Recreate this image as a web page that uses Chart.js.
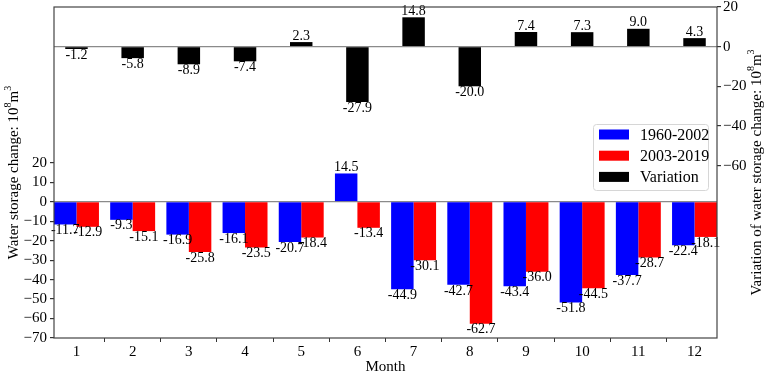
<!DOCTYPE html>
<html>
<head>
<meta charset="utf-8">
<script src="https://cdn.jsdelivr.net/npm/chart.js@4/dist/chart.umd.min.js"></script>
<style>
  html, body { margin: 0; padding: 0; background: #fff; }
  #wrap { width: 768px; height: 375px; }
</style>
</head>
<body>
<div id="wrap"><canvas id="chart" width="768" height="375"></canvas></div>
<script>
// ===== Data =====
const months = [1, 2, 3, 4, 5, 6, 7, 8, 9, 10, 11, 12];
const period1 = [-11.7, -9.3, -16.9, -16.1, -20.7, 14.5, -44.9, -42.7, -43.4, -51.8, -37.7, -22.4]; // 1960-2002
const period2 = [-12.9, -15.1, -25.8, -23.5, -18.4, -13.4, -30.1, -62.7, -36.0, -44.5, -28.7, -18.1]; // 2003-2019
const variation = [-1.2, -5.8, -8.9, -7.4, 2.3, -27.9, 14.8, -20.0, 7.4, 7.3, 9.0, 4.3];
const leftTicks = [20, 10, 0, -10, -20, -30, -40, -50, -60, -70];
const rightTicks = [20, 0, -20, -40, -60];

const FONT = "'Liberation Serif', 'Times New Roman', serif";
Chart.defaults.font.family = FONT;
Chart.defaults.color = '#000';

const minusFmt = v => (v < 0 ? '\u2212' + Math.abs(v) : String(v));
const zeroGrid = ctx => (ctx.tick && ctx.tick.value === 0 ? '#8a8a8a' : 'rgba(0,0,0,0)');

// ===== Value labels on bars =====
const valueLabels = {
  id: 'valueLabels',
  afterDatasetsDraw(chart) {
    const ctx = chart.ctx;
    ctx.save();
    ctx.font = '14px ' + FONT;
    ctx.fillStyle = '#000';
    ctx.textAlign = 'center';
    chart.data.datasets.forEach((ds, i) => {
      const meta = chart.getDatasetMeta(i);
      meta.data.forEach((bar, j) => {
        const v = ds.data[j];
        if (v < 0) {
          ctx.textBaseline = 'top';
          ctx.fillText(v.toFixed(1), bar.x, bar.y - 1);
        } else {
          ctx.textBaseline = 'bottom';
          ctx.fillText(v.toFixed(1), bar.x, bar.y + 1);
        }
      });
    });
    ctx.restore();
  }
};

// text with superscripts, parts = [[text, isSup], ...]
function drawRich(ctx, parts, cx, cy, rot) {
  const base = '15px ' + FONT, sup = '10px ' + FONT;
  let total = 0;
  parts.forEach(p => { ctx.font = p[1] ? sup : base; total += ctx.measureText(p[0]).width; });
  ctx.save();
  ctx.translate(cx, cy);
  ctx.rotate(rot);
  ctx.fillStyle = '#000';
  ctx.textBaseline = 'middle';
  ctx.textAlign = 'left';
  let x = -total / 2;
  parts.forEach(p => {
    ctx.font = p[1] ? sup : base;
    ctx.fillText(p[0], x, p[1] ? -6 : 0);
    x += ctx.measureText(p[0]).width;
  });
  ctx.restore();
}

// ===== Frame, titles and legend =====
const decorations = {
  id: 'decorations',
  afterDraw(chart) {
    const ctx = chart.ctx;
    const a = chart.chartArea;
    ctx.save();
    ctx.strokeStyle = '#444';
    ctx.lineWidth = 1.2;
    ctx.strokeRect(a.left, a.top, a.right - a.left, a.bottom - a.top);
    ctx.restore();

    const midY = (a.top + a.bottom) / 2;
    drawRich(ctx, [['Water storage change: 10', false], ['8', true], ['m', false], ['3', true]], 14, midY, -Math.PI / 2);
    drawRich(ctx, [['Variation of water storage change: 10', false], ['8', true], ['m', false], ['3', true]], 757, midY, -Math.PI / 2);
    drawRich(ctx, [['Month', false]], (a.left + a.right) / 2, 367, 0);

    // legend
    const lx = 593, ly = 124, lw = 115, lh = 66;
    ctx.save();
    ctx.fillStyle = 'rgba(255,255,255,0.85)';
    ctx.strokeStyle = '#d6d6d6';
    ctx.lineWidth = 1;
    ctx.beginPath();
    ctx.roundRect(lx + 0.5, ly + 0.5, lw, lh, 3);
    ctx.fill();
    ctx.stroke();
    ctx.font = '16px ' + FONT;
    ctx.textBaseline = 'middle';
    ctx.textAlign = 'left';
    chart.data.datasets.forEach((ds, i) => {
      const y = 134.5 + i * 21.2;
      ctx.fillStyle = ds.backgroundColor;
      ctx.fillRect(599, y - 5, 30, 10);
      ctx.fillStyle = '#000';
      ctx.fillText(ds.label, 640, y + 1);
    });
    ctx.restore();
  }
};

const noPad = s => { s.paddingTop = 0; s.paddingBottom = 0; s.paddingLeft = 0; s.paddingRight = 0; };

new Chart(document.getElementById('chart'), {
  type: 'bar',
  data: {
    labels: months,
    datasets: [
      { label: '1960-2002', data: period1, backgroundColor: '#0000ff', yAxisID: 'y',
        categoryPercentage: 0.8, barPercentage: 1.0 },
      { label: '2003-2019', data: period2, backgroundColor: '#ff0000', yAxisID: 'y',
        categoryPercentage: 0.8, barPercentage: 1.0 },
      { label: 'Variation', data: variation, backgroundColor: '#000000', yAxisID: 'y2',
        grouped: false, categoryPercentage: 0.8, barPercentage: 0.5 }
    ]
  },
  options: {
    responsive: false,
    animation: false,
    layout: { padding: { top: 7, left: 0, right: 0, bottom: 0 } },
    plugins: { legend: { display: false }, tooltip: { enabled: false } },
    scales: {
      x: {
        type: 'linear',
        min: 0.6,
        max: 12.4,
        offset: false,
        border: { display: false },
        grid: { drawOnChartArea: false, tickLength: 4, tickColor: '#333' },
        ticks: { font: { size: 15 }, padding: 1, maxRotation: 0 },
        afterBuildTicks: s => { s.ticks = months.map(v => ({ value: v })); },
        afterFit: s => { s.height = 37; noPad(s); }
      },
      y: {
        position: 'left',
        min: -70,
        max: 100,
        border: { display: false },
        grid: { color: zeroGrid, tickLength: 4, tickColor: '#333', lineWidth: 1.2 },
        ticks: { font: { size: 15 }, padding: 3, callback: minusFmt },
        afterBuildTicks: s => { s.ticks = leftTicks.map(v => ({ value: v })); },
        afterFit: s => { s.width = 54; noPad(s); }
      },
      y2: {
        position: 'right',
        min: -147,
        max: 20,
        border: { display: false },
        grid: { color: zeroGrid, tickLength: 4, tickColor: '#333', lineWidth: 1.2 },
        ticks: { font: { size: 15 }, padding: 2, callback: minusFmt },
        afterBuildTicks: s => { s.ticks = rightTicks.map(v => ({ value: v })); },
        afterFit: s => { s.width = 51; noPad(s); }
      }
    }
  },
  plugins: [valueLabels, decorations]
});
</script>
</body>
</html>
